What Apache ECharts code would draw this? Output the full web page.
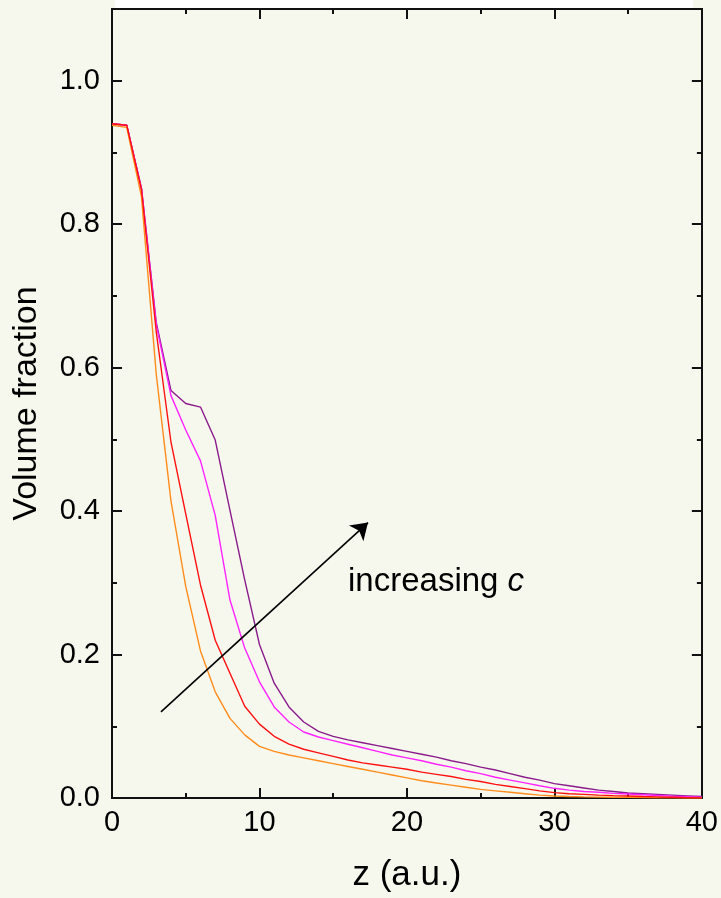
<!DOCTYPE html>
<html>
<head>
<meta charset="utf-8">
<script src="https://cdn.jsdelivr.net/npm/echarts@6/dist/echarts.min.js"></script>
<style>
  html, body { margin: 0; padding: 0; background: #f6f8ee; }
  #chart { width: 721px; height: 898px; }
</style>
</head>
<body>
<div id="chart"></div>
<script>
// Depth coordinate (a.u.)
const zValues = [0,1,2,3,4,5,6,7,8,9,10,11,12,13,14,15,16,17,18,19,20,
                 21,22,23,24,25,26,27,28,29,30,31,32,33,34,35,36,37,38,39,40];

// Volume-fraction profiles, lowest c first
const profileOrange = [0.938,0.935,0.838,0.591,0.414,0.295,0.205,0.148,0.111,0.088,0.072,
  0.065,0.060,0.056,0.052,0.048,0.044,0.040,0.036,0.032,0.028,
  0.024,0.021,0.018,0.015,0.012,0.010,0.008,0.006,0.004,0.0028,
  0.002,0.0015,0.0012,0.001,0.001,0.0005,0.0003,0.0002,0.0001,0];
const profileRed = [0.940,0.938,0.848,0.650,0.496,0.396,0.297,0.220,0.174,0.128,0.103,
  0.086,0.075,0.068,0.063,0.058,0.053,0.049,0.046,0.043,0.040,
  0.036,0.033,0.030,0.026,0.023,0.019,0.016,0.013,0.010,0.0075,
  0.006,0.005,0.004,0.0033,0.0028,0.002,0.0015,0.001,0.0005,0];
const profileMagenta = [0.940,0.938,0.850,0.660,0.561,0.513,0.470,0.394,0.276,0.209,0.162,
  0.127,0.106,0.092,0.085,0.080,0.075,0.070,0.065,0.060,0.056,
  0.052,0.047,0.043,0.038,0.034,0.029,0.025,0.021,0.017,0.0135,
  0.011,0.009,0.008,0.0065,0.0056,0.0045,0.0035,0.0025,0.0018,0.001];
const profilePurple = [0.940,0.938,0.850,0.663,0.568,0.550,0.545,0.499,0.401,0.304,0.214,
  0.160,0.127,0.106,0.093,0.086,0.081,0.077,0.073,0.069,0.065,
  0.061,0.057,0.052,0.048,0.043,0.039,0.034,0.029,0.025,0.020,
  0.017,0.014,0.011,0.009,0.007,0.006,0.005,0.004,0.003,0.002];

// Trend arrow endpoints [z, fraction]
const arrowStart = [3.32, 0.120];
const arrowEnd = [17.36, 0.384];

const xTicksMajor = 10, xTicksMinor = 5;
const yTicksMajor = 0.2, yTicksMinor = 0.1;

const pairs = arr => zValues.map((z, i) => [z, arr[i]]);

const FONT = '"Liberation Sans", Arial, sans-serif';
const axisLineStyle = { color: '#111', width: 2 };

function xAxisDef(position, interval, len, withLabels) {
  return {
    type: 'value', min: 0, max: 40, interval: interval, position: position,
    axisLine: { show: true, onZero: false, lineStyle: axisLineStyle },
    axisTick: { show: true, inside: true, length: len, lineStyle: { color: '#111', width: 2 } },
    axisLabel: { show: withLabels, color: '#000', fontFamily: FONT, fontSize: 29, margin: 10 },
    splitLine: { show: false },
    name: withLabels ? 'z (a.u.)' : '', nameLocation: 'middle', nameGap: 60,
    nameTextStyle: { color: '#000', fontFamily: FONT, fontSize: 35 }
  };
}
function yAxisDef(position, interval, len, withLabels) {
  return {
    type: 'value', min: 0, max: 1.1, interval: interval, position: position,
    axisLine: { show: true, onZero: false, lineStyle: axisLineStyle },
    axisTick: { show: true, inside: true, length: len, lineStyle: { color: '#111', width: 2 } },
    axisLabel: { show: withLabels, showMaxLabel: false, color: '#000', fontFamily: FONT, fontSize: 29, margin: 12,
      formatter: v => v.toFixed(1) },
    splitLine: { show: false },
    name: withLabels ? 'Volume fraction' : '', nameLocation: 'middle', nameGap: 68,
    nameTextStyle: { color: '#000', fontFamily: FONT, fontSize: 34 }
  };
}

function lineSeries(name, arr, color) {
  return {
    name: name, type: 'line', data: pairs(arr), showSymbol: false, symbol: 'none',
    xAxisIndex: 0, yAxisIndex: 0,
    lineStyle: { color: color, width: 1.4 }, itemStyle: { color: color },
    animation: false, silent: true
  };
}

const chart = echarts.init(document.getElementById('chart'), null, { renderer: 'canvas' });

const seriesList = [
  lineSeries('c4', profilePurple, '#8b1a8b'),
  lineSeries('c3', profileMagenta, '#ff22ff'),
  lineSeries('c1', profileOrange, '#ff8c1a'),
  lineSeries('c2', profileRed, '#ff1010')
];
// Arrow marking the direction of increasing c
seriesList[3].markLine = {
  silent: true, animation: false,
  symbol: ['none', 'arrow'], symbolSize: 16,
  label: { show: false },
  emphasis: { disabled: true },
  lineStyle: { color: '#000', width: 1.6, type: 'solid' },
  data: [[{ coord: arrowStart }, { coord: arrowEnd }]]
};

chart.setOption({
  backgroundColor: '#f6f8ee',
  animation: false,
  grid: { left: 112, right: 19, top: 9, bottom: 100, containLabel: false },
  xAxis: [
    xAxisDef('bottom', xTicksMajor, 10, true),
    xAxisDef('bottom', xTicksMinor, 5, false),
    xAxisDef('top', xTicksMajor, 10, false),
    xAxisDef('top', xTicksMinor, 5, false)
  ],
  yAxis: [
    yAxisDef('left', yTicksMajor, 10, true),
    yAxisDef('left', yTicksMinor, 5, false),
    yAxisDef('right', yTicksMajor, 10, false),
    yAxisDef('right', yTicksMinor, 5, false)
  ],
  graphic: [
    { type: 'rect', shape: { x: 115, y: 0, width: 578, height: 8 }, style: { fill: '#ffffff' }, z: 100 },
    { type: 'text', x: 348, y: 565, z: 100,
      style: {
        text: '{a|increasing }{b|c}',
        rich: {
          a: { fontFamily: FONT, fontSize: 33, fill: '#000' },
          b: { fontFamily: FONT, fontSize: 33, fontStyle: 'italic', fill: '#000' }
        }
      }
    }
  ],
  series: seriesList
});
</script>
</body>
</html>
